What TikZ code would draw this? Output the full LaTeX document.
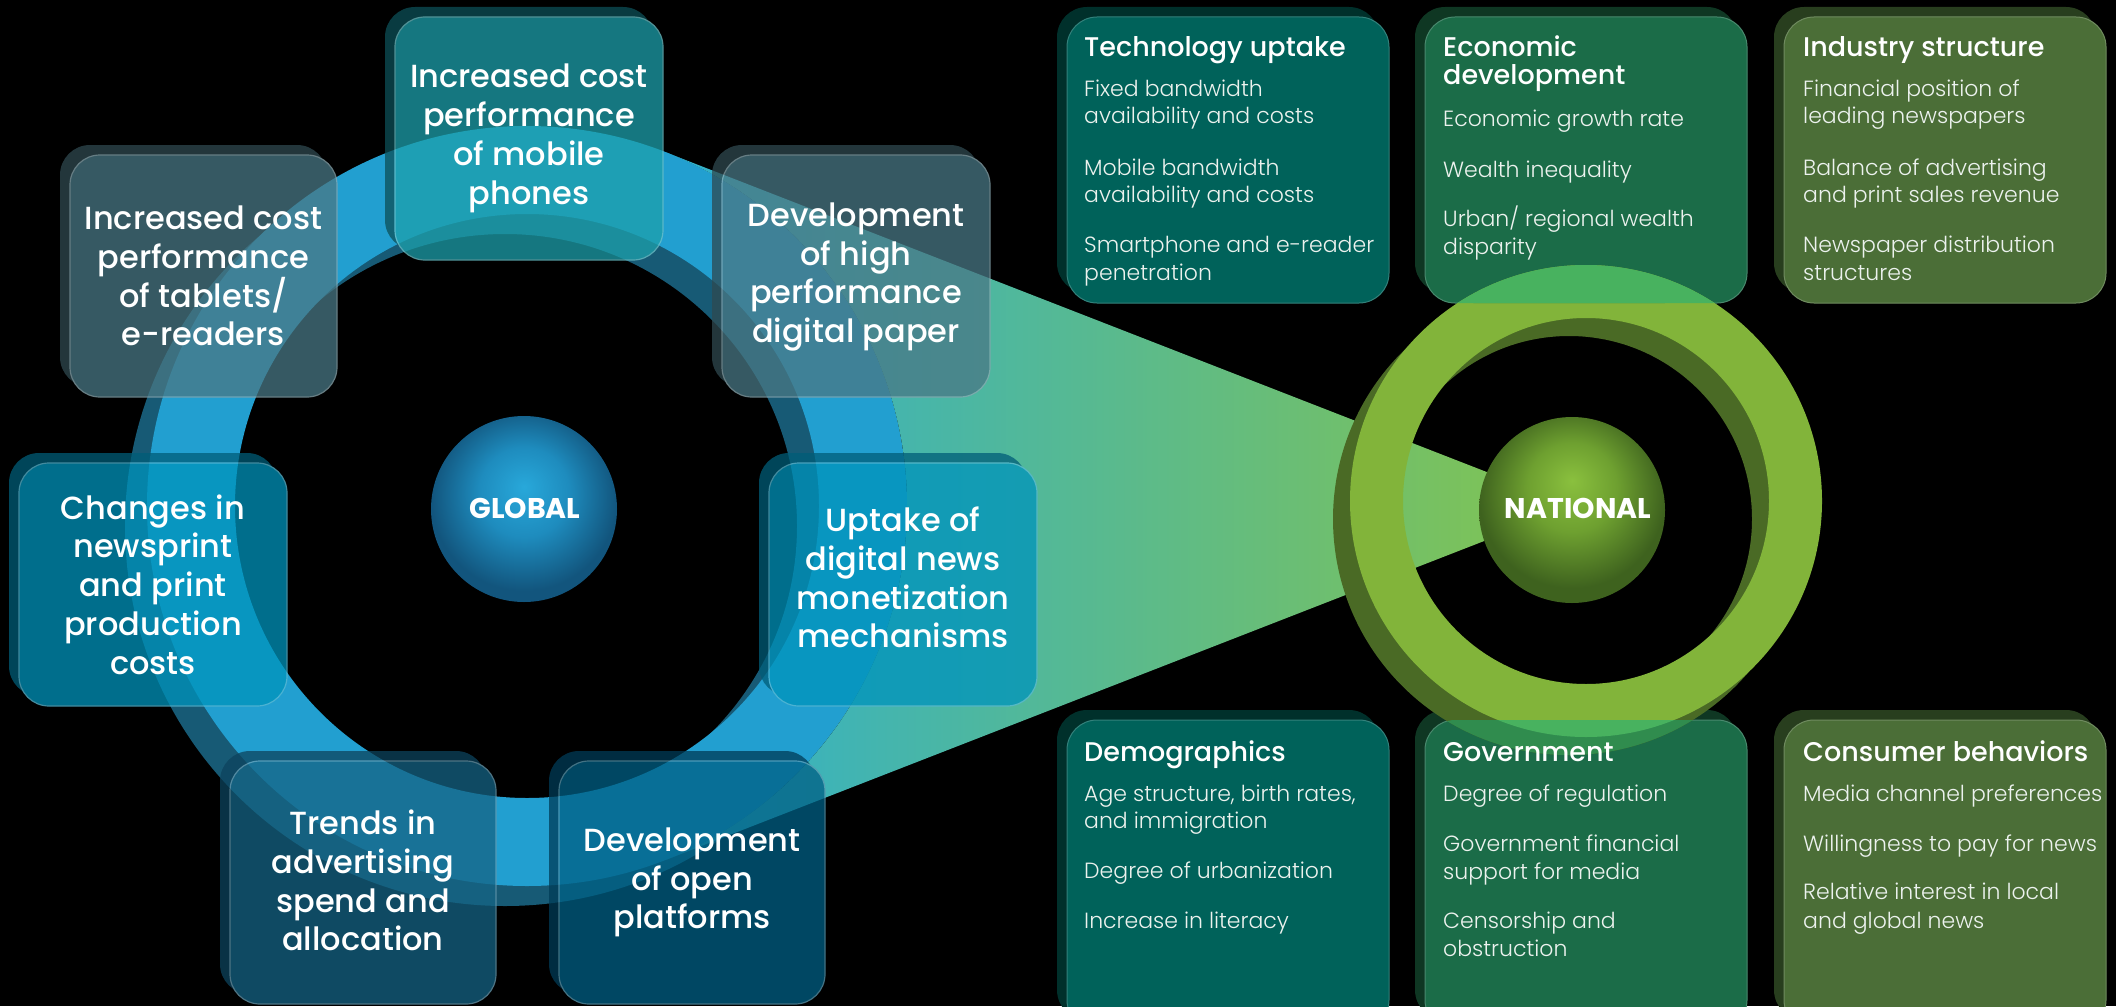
\documentclass[tikz,border=0pt]{standalone}
\usepackage{fontspec}
\setmainfont{Poppins}
\IfFontExistsTF{Poppins Medium}{\newfontfamily\medfont{Poppins Medium}}{\newfontfamily\medfont{Poppins}}
\IfFontExistsTF{Poppins Light}{\newfontfamily\lightfont{Poppins Light}}{\newfontfamily\lightfont{Poppins}}

\definecolor{ringL}{RGB}{34,159,208}
\definecolor{ringD}{RGB}{23,90,117}
\definecolor{gringL}{RGB}{130,180,58}
\definecolor{gringD}{RGB}{74,106,37}
\definecolor{gover}{RGB}{72,178,95}
\definecolor{goverD}{RGB}{48,140,78}
\definecolor{wedgeL}{RGB}{48,176,204}
\definecolor{wedgeR}{RGB}{132,196,78}
\definecolor{topF}{RGB}{29,160,171}
\definecolor{topB}{RGB}{13,80,87}
\definecolor{sideF}{RGB}{73,120,133}
\definecolor{sideB}{RGB}{47,73,80}
\definecolor{midF}{RGB}{0,147,187}
\definecolor{midB}{RGB}{0,93,120}
\definecolor{blF}{RGB}{21,100,133}
\definecolor{blB}{RGB}{13,67,93}
\definecolor{brF}{RGB}{0,96,133}
\definecolor{brB}{RGB}{0,60,87}
\definecolor{techF}{RGB}{0,98,90}
\definecolor{techB}{RGB}{0,48,43}
\definecolor{econF}{RGB}{27,108,72}
\definecolor{econB}{RGB}{15,55,35}
\definecolor{indF}{RGB}{75,110,55}
\definecolor{indB}{RGB}{40,62,30}
\definecolor{gA}{RGB}{40,168,218}
\definecolor{gB}{RGB}{30,140,190}
\definecolor{gC}{RGB}{18,85,125}
\definecolor{nA}{RGB}{138,192,62}
\definecolor{nB}{RGB}{110,160,48}
\definecolor{nC}{RGB}{62,98,30}
\definecolor{itemwhite}{RGB}{236,242,238}

\pgfdeclareradialshading{gball}{\pgfpoint{0bp}{6bp}}{color(0bp)=(gA); color(12bp)=(gB); color(25bp)=(gC); color(50bp)=(gC)}
\pgfdeclareradialshading{nball}{\pgfpoint{0bp}{8bp}}{color(0bp)=(nA); color(12bp)=(nB); color(25bp)=(nC); color(50bp)=(nC)}

\newcommand\GBox[9]{%
  \begin{scope}[transparency group, opacity=0.75]
    \fill[#7, rounded corners=30pt] (#2-10,#3-10) rectangle (#4-10,#5-10);
    \filldraw[fill=#6, draw=#6!65!white, line width=1.2pt, rounded corners=30pt] (#2,#3) rectangle (#4,#5);
  \end{scope}
  \node[gtext] (#1) at ({(#2+#4)/2},{(#3+#5)/2+#9}) {#8};
}
\newcommand\RBox[7]{%
  \fill[#7, rounded corners=30pt] (#2-10,#3-10) rectangle (#4-10,#5-10);
  \filldraw[fill=#6, draw=#6!80!white, line width=1pt, rounded corners=30pt] (#2,#3) rectangle (#4,#5);
  \coordinate (#1) at ({(#2+#4)/2},{(#3+#5)/2});
}
\newcommand\PanelText[4]{%
  \foreach \yy/\itemtxt [count=\i] in {#3} {\node[headtext] (#1-h\i) at (#2,\yy) {\itemtxt};}
  \foreach \yy/\itemtxt [count=\i] in {#4} {\node[itemtext] (#1-i\i) at (#2,\yy) {\itemtxt};}
}

\begin{document}
\begin{tikzpicture}[x=1pt,y=-1pt,
  gtext/.style={text=white, align=center, inner sep=0pt, font=\medfont\fontsize{32}{38.8}\selectfont},
  headtext/.style={text=white, anchor=base west, inner sep=0pt, font=\medfont\fontsize{27}{28}\selectfont},
  itemtext/.style={text=itemwhite, anchor=base west, inner sep=0pt, font=\lightfont\fontsize{22}{28}\selectfont},
  captext/.style={text=white, inner sep=0pt, font=\bfseries\fontsize{28.5}{30}\selectfont}]
\useasboundingbox (0,0) rectangle (2116,1006);
\fill[black] (0,0) rectangle (2116,1006);
\clip (0,0) rectangle (2116,1006);

% global ring
\fill[ringD, even odd rule] (505,526) circle[radius=380] (505,526) circle[radius=292];
\fill[ringL, even odd rule] (527,506) circle[radius=380] (527,506) circle[radius=292];

% wedge
\shade[left color=wedgeL, right color=wedgeR] (1574,506) -- (665,152) arc[start angle=-68.72, end angle=68.72, radius=380] -- cycle;

% spheres
\shade[shading=gball] (524,509) circle[radius=93];
\node[captext] (global) at (525,508) {GLOBAL};

% global boxes
\GBox{gtop}{395}{17}{663}{260}{topF}{topB}{Increased cost\\performance\\of mobile\\phones}{0}
\GBox{gul}{70}{155}{337}{397}{sideF}{sideB}{Increased cost\\performance\\of tablets/\\e-readers}{0}
\GBox{gur}{722}{155}{990}{397}{sideF}{sideB}{Development\\of high\\performance\\digital paper}{1}
\GBox{gml}{19}{463}{287}{706}{midF}{midB}{Changes in\\newsprint\\and print\\production\\costs}{0}
\GBox{gmr}{769}{463}{1037}{706}{midF}{midB}{Uptake of\\digital news\\monetization\\mechanisms}{-7}
\GBox{gbl}{230}{761}{496}{1004}{blF}{blB}{Trends in\\advertising\\spend and\\allocation}{-2}
\GBox{gbr}{559}{761}{825}{1004}{brF}{brB}{Development\\of open\\platforms}{0}

% right panels
\RBox{tech}{1067}{17}{1389}{303}{techF}{techB}
\RBox{econ}{1425}{17}{1747}{303}{econF}{econB}
\RBox{ind}{1784}{17}{2106}{303}{indF}{indB}
\RBox{demo}{1067}{720}{1389}{1030}{techF}{techB}
\RBox{gov}{1425}{720}{1747}{1030}{econF}{econB}
\RBox{cons}{1784}{720}{2106}{1030}{indF}{indB}

% national ring
\fill[gringD, even odd rule] (1569,519) circle[radius=236] (1569,519) circle[radius=183];
\fill[gringL, even odd rule] (1586,501) circle[radius=236] (1586,501) circle[radius=183];
\begin{scope}
  \clip[rounded corners=30pt] (1425,17) rectangle (1747,303) (1425,720) rectangle (1747,1030);
  \fill[goverD, even odd rule] (1569,519) circle[radius=236] (1569,519) circle[radius=183];
  \fill[gover, even odd rule] (1586,501) circle[radius=236] (1586,501) circle[radius=183];
\end{scope}
\shade[shading=nball] (1572,510) circle[radius=93];
\node[captext] (national) at (1578,508) {NATIONAL};

% panel texts
\PanelText{tech}{1084}{57/Technology uptake}{97/Fixed bandwidth, 124/availability and costs, 175/Mobile bandwidth, 202/availability and costs, 252/Smartphone and e-reader, 280/penetration}
\PanelText{econ}{1443}{57/Economic, 85/development}{127/Economic growth rate, 177/Wealth inequality, 226/{Urban/ regional wealth}, 254/disparity}
\PanelText{ind}{1803}{57/Industry structure}{97/Financial position of, 124/leading newspapers, 175/Balance of advertising, 202/and print sales revenue, 252/Newspaper distribution, 280/structures}
\PanelText{demo}{1084}{761/Demographics}{801/{Age structure, birth rates,}, 828/and immigration, 878/Degree of urbanization, 928/Increase in literacy}
\PanelText{gov}{1443}{761/Government}{801/Degree of regulation, 851/Government financial, 879/support for media, 928/Censorship and, 956/obstruction}
\PanelText{cons}{1803}{761/Consumer behaviors}{801/Media channel preferences, 851/Willingness to pay for news, 899/Relative interest in local, 928/and global news}
\end{tikzpicture}
\end{document}
